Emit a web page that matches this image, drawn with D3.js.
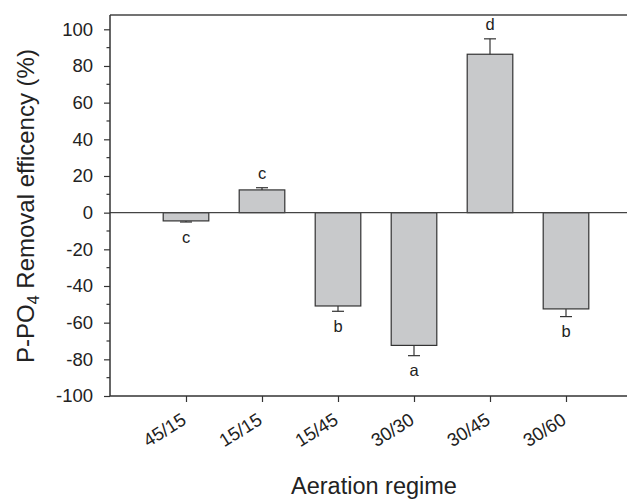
<!DOCTYPE html>
<html><head><meta charset="utf-8">
<script src="https://cdn.jsdelivr.net/npm/d3@7"></script>
<style>body{margin:0;background:#fff}svg{display:block}text{font-family:"Liberation Sans",Arial,sans-serif;fill:#222}</style>
</head><body>
<svg id="c" width="627" height="499"></svg>
<script>
const categories = ["45/15","15/15","15/45","30/30","30/45","30/60"];
const values = [-4.5, 12.4, -50.9, -72.4, 86.4, -52.5];
const errors = [0.6, 1.2, 2.9, 5.6, 8.4, 4.2];
const letters = ["c","c","b","a","d","b"];
const yTicks = [-100,-80,-60,-40,-20,0,20,40,60,80,100];

const svg = d3.select("#c");
const mLeft = 110, mTop = 15, mBottom = 396;
const x = d3.scaleLinear().domain([0,7]).range([mLeft, mLeft + 76*7]);
const y = d3.scaleLinear().domain([-100, 107.8]).range([mBottom, mTop]);
const bw = 45.6;
const dark = "#333";
const FONT = "Liberation Sans, Arial, sans-serif";

// bars
const g = svg.append("g");
categories.forEach((c,i)=>{
  const v = values[i], cx = x(i+1);
  g.append("rect").attr("x", cx-bw/2).attr("width", bw)
    .attr("y", y(Math.max(0,v))).attr("height", Math.abs(y(v)-y(0)))
    .attr("fill","#c8c9cb").attr("stroke",dark).attr("stroke-width",1.2);
  const e = v>=0 ? v+errors[i] : v-errors[i];
  g.append("line").attr("x1",cx).attr("x2",cx).attr("y1",y(v)).attr("y2",y(e)).attr("stroke",dark).attr("stroke-width",1.2);
  g.append("line").attr("x1",cx-6).attr("x2",cx+6).attr("y1",y(e)).attr("y2",y(e)).attr("stroke",dark).attr("stroke-width",1.2);
  g.append("text").attr("x",cx).attr("y", v>=0 ? y(e)-9 : y(e)+20.5)
    .attr("text-anchor","middle").attr("font-size",16.5).text(letters[i]);
});

// zero line
svg.append("line").attr("x1",mLeft).attr("x2",627).attr("y1",y(0)).attr("y2",y(0)).attr("stroke","#444").attr("stroke-width",1.4);
// frame top
svg.append("line").attr("x1",mLeft).attr("x2",627).attr("y1",mTop).attr("y2",mTop).attr("stroke","#444").attr("stroke-width",1.6);

// y axis
const yAxis = d3.axisLeft(y).tickValues(yTicks).tickSize(6).tickPadding(11).tickFormat(d=>String(d));
const ya = svg.append("g").attr("transform",`translate(${mLeft},0)`).call(yAxis);
ya.select(".domain").attr("d",`M0,${mTop}V${mBottom}`).attr("stroke","#333").attr("stroke-width",1.5);
ya.selectAll(".tick line").attr("stroke","#333").attr("stroke-width",1.2);
ya.selectAll("text").attr("font-size",18.5).attr("fill","#222").attr("font-family",FONT);
// minor ticks
const minor = d3.range(-90,101,20);
svg.append("g").selectAll("line").data(minor).join("line")
  .attr("x1",mLeft-3.5).attr("x2",mLeft).attr("y1",d=>y(d)).attr("y2",d=>y(d)).attr("stroke","#333").attr("stroke-width",1.2);

// x axis
const xAxis = d3.axisBottom(x).tickValues(d3.range(1,7)).tickSize(6).tickFormat(d=>categories[d-1]);
const xa = svg.append("g").attr("transform",`translate(0,${mBottom})`).call(xAxis);
xa.select(".domain").attr("d",`M${mLeft},0H627`).attr("stroke","#333").attr("stroke-width",1.5);
xa.selectAll(".tick line").attr("stroke","#333").attr("stroke-width",1.2);
xa.selectAll("text").attr("font-size",18.5).attr("fill","#222").attr("font-family",FONT)
  .attr("text-anchor","end").attr("dy",0).attr("y",0)
  .attr("transform","translate(1,27) rotate(-32)");

// axis titles
svg.append("text").attr("x",374).attr("y",493.5).attr("text-anchor","middle").attr("font-size",23.5).text("Aeration regime");
const yt = svg.append("text").attr("transform",`translate(34,206) rotate(-90)`).attr("text-anchor","middle").attr("font-size",24);
yt.append("tspan").text("P-PO");
yt.append("tspan").attr("font-size",16).attr("dy",5).text("4");
yt.append("tspan").attr("dy",-5).text(" Removal efficency (%)");
</script>
</body></html>
